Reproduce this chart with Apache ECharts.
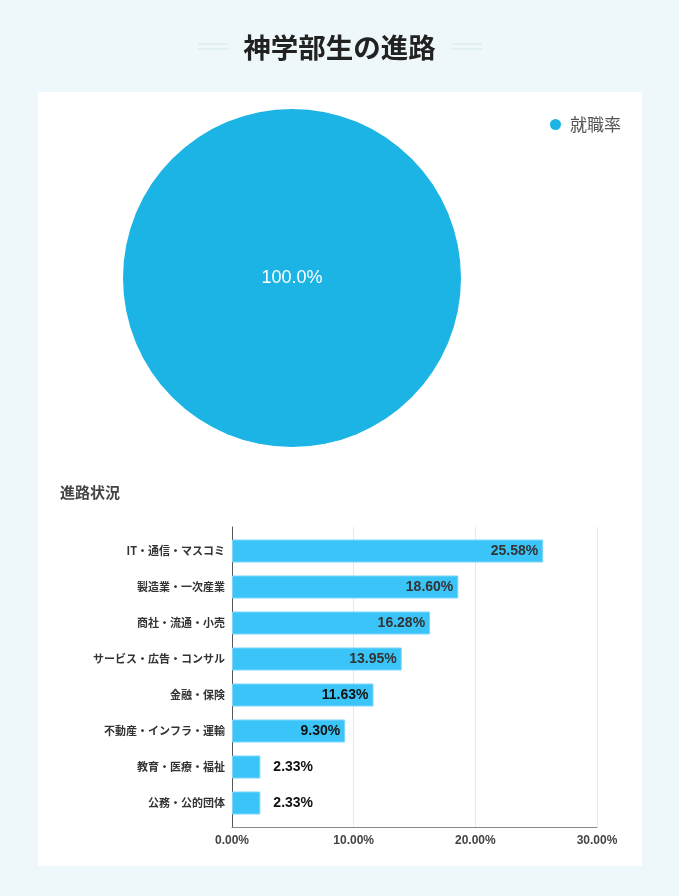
<!DOCTYPE html>
<html><head><meta charset="utf-8">
<script src="https://cdn.jsdelivr.net/npm/echarts@6/dist/echarts.min.js"></script>
<style>html,body{margin:0;padding:0;background:#eef8fb;}#c{width:679px;height:896px;}</style>
</head><body><div id="c"></div>
<script>
const pageTitle = '神学部生の進路';
const pieNames = ['就職率'];
const pieValues = [100];
const barTitle = '進路状況';
const categories = ['IT・通信・マスコミ','製造業・一次産業','商社・流通・小売','サービス・広告・コンサル','金融・保険','不動産・インフラ・運輸','教育・医療・福祉','公務・公的団体'];
const barValues = [25.58, 18.60, 16.28, 13.95, 11.63, 9.30, 2.33, 2.33];
const xTicks = [0, 10, 20, 30];

const FONT = '"Liberation Sans", Arial, "Noto Sans CJK JP", sans-serif';
const JP = '"Noto Sans CJK JP", sans-serif';
const fmt = v => v.toFixed(2) + '%';
const chart = echarts.init(document.getElementById('c'));
chart.setOption({
  backgroundColor: '#eef8fb',
  textStyle: { fontFamily: FONT },
  graphic: [
    { type: 'rect', shape: { x: 38, y: 92, width: 604, height: 774 }, style: { fill: '#ffffff' }, z: -10 },
    { type: 'line', shape: { x1: 198, y1: 44, x2: 228, y2: 44 }, style: { stroke: '#dbecef', lineWidth: 1.5 } },
    { type: 'line', shape: { x1: 198, y1: 49, x2: 228, y2: 49 }, style: { stroke: '#dbecef', lineWidth: 1.5 } },
    { type: 'line', shape: { x1: 452, y1: 44, x2: 482, y2: 44 }, style: { stroke: '#dbecef', lineWidth: 1.5 } },
    { type: 'line', shape: { x1: 452, y1: 49, x2: 482, y2: 49 }, style: { stroke: '#dbecef', lineWidth: 1.5 } }
  ],
  title: [
    { text: pageTitle, left: 'center', top: 29, textStyle: { fontSize: 27.5, fontWeight: 'bold', color: '#222', fontFamily: JP } },
    { text: barTitle, left: 55, top: 480, textStyle: { fontSize: 15, fontWeight: 'bold', color: '#444', fontFamily: JP } }
  ],
  legend: {
    data: pieNames, left: 545, top: 111, icon: 'circle', itemWidth: 11, itemHeight: 11, itemGap: 10,
    textStyle: { fontSize: 17, color: '#555', fontFamily: JP, padding: [0, 0, 0, 4] }
  },
  grid: [
    { left: 232, right: 82, top: 527, bottom: 69 },
    { left: 232, right: 82, top: 533, bottom: 75 }
  ],
  xAxis: [
    {
      gridIndex: 0, type: 'value', min: xTicks[0], max: xTicks[xTicks.length - 1], interval: 10,
      axisLine: { show: true, lineStyle: { color: '#888', width: 1 } },
      axisTick: { show: false },
      splitLine: { lineStyle: { color: '#e8e8e8' } },
      axisLabel: { formatter: fmt, fontSize: 12, fontWeight: 'bold', color: '#444', margin: 8 }
    },
    {
      gridIndex: 1, type: 'value', min: xTicks[0], max: xTicks[xTicks.length - 1], interval: 10,
      show: false
    }
  ],
  yAxis: [
    {
      gridIndex: 0, type: 'category', data: categories, inverse: true,
      axisLine: { show: true, lineStyle: { color: '#555', width: 1 } },
      axisTick: { show: false }, axisLabel: { show: false }, splitLine: { show: false }
    },
    {
      gridIndex: 1, type: 'category', data: categories, inverse: true,
      axisLine: { show: false }, axisTick: { show: false },
      axisLabel: { fontSize: 11, fontWeight: 'bold', color: '#333', margin: 7, fontFamily: JP }
    }
  ],
  series: [
    {
      type: 'pie', center: [292, 278], radius: 169, startAngle: 90,
      data: pieNames.map((n, i) => ({ name: n, value: pieValues[i] })),
      itemStyle: { color: '#1bb4e4' },
      label: { show: true, position: 'center', formatter: p => p.percent.toFixed(1) + '%', color: '#fff', fontSize: 18 },
      labelLine: { show: false },
      emphasis: { disabled: true }
    },
    {
      type: 'bar', xAxisIndex: 1, yAxisIndex: 1, barWidth: 23,
      data: barValues.map(v => ({
        value: v,
        label: v < 5 ? { position: 'right', distance: 13, color: '#111' } : { position: 'insideRight', distance: 5, color: v < 12 ? '#111' : '#333' }
      })),
      itemStyle: { color: '#3ac4f8', borderColor: '#7dd6f9', borderWidth: 1 },
      label: { show: true, formatter: p => fmt(p.value), fontSize: 14, fontWeight: 'bold' },
      emphasis: { disabled: true }
    }
  ]
});
</script></body></html>
